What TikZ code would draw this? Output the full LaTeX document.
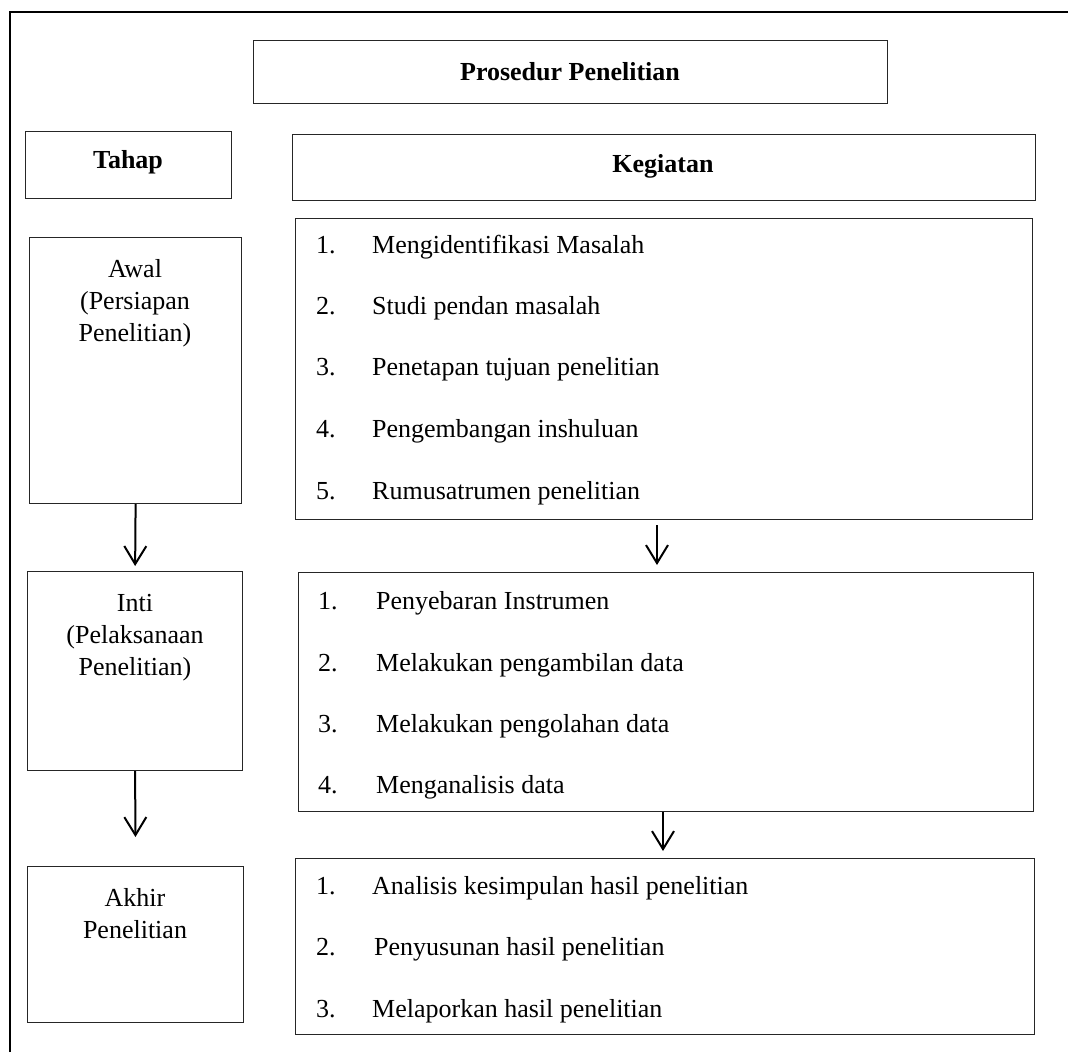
\documentclass[tikz,border=0pt]{standalone}
\usepackage{fontspec}
\setmainfont{Liberation Serif}
\usetikzlibrary{arrows.meta}
\begin{document}
\begin{tikzpicture}[x=1pt,y=-1pt,
  box/.style={draw=black!85, line width=1.2pt, inner sep=0pt, anchor=north west},
  txt/.style={inner sep=0pt, font=\fontsize{26}{30}\selectfont},
  hd/.style={inner sep=0pt, font=\fontsize{26}{30}\selectfont\bfseries},
  arr/.style={line width=2pt, -{Straight Barb[length=18pt,width=22pt]}}]
\useasboundingbox (0,0) rectangle (1068,1052);
\draw[line width=2pt] (10,1052) -- (10,12) -- (1068,12);

% boxes
\node[box, minimum width=634pt, minimum height=63pt] (title) at (253,40) {};
\node[box, minimum width=206pt, minimum height=67pt] (tahap) at (25,131) {};
\node[box, minimum width=743pt, minimum height=66pt] (keg) at (292,134) {};
\node[box, minimum width=212pt, minimum height=266pt] (awal) at (29,237) {};
\node[box, minimum width=737pt, minimum height=301pt] (list1) at (295,218) {};
\node[box, minimum width=215pt, minimum height=199pt] (inti) at (27,571) {};
\node[box, minimum width=735pt, minimum height=239pt] (list2) at (298,572) {};
\node[box, minimum width=216pt, minimum height=156pt] (akhir) at (27,866) {};
\node[box, minimum width=739pt, minimum height=176pt] (list3) at (295,858) {};

% headings
\node[hd, anchor=base] (ttitle) at (570,80) {Prosedur Penelitian};
\node[hd, anchor=base] (ttahap) at (128,168) {Tahap};
\node[hd, anchor=base] (tkeg) at (663,172) {Kegiatan};

% left column texts
\node[txt, anchor=base] (aw1) at (135,277) {Awal};
\node[txt, anchor=base] (aw2) at (135,309) {(Persiapan};
\node[txt, anchor=base] (aw3) at (135,341) {Penelitian)};
\node[txt, anchor=base] (in1) at (135,611) {Inti};
\node[txt, anchor=base] (in2) at (135,643) {(Pelaksanaan};
\node[txt, anchor=base] (in3) at (135,675) {Penelitian)};
\node[txt, anchor=base] (ak1) at (135,906) {Akhir};
\node[txt, anchor=base] (ak2) at (135,938) {Penelitian};

% list 1
\node[txt, anchor=base west] (n11) at (316,253) {1.};
\node[txt, anchor=base west] (t11) at (372,253) {Mengidentifikasi Masalah};
\node[txt, anchor=base west] (n12) at (316,314) {2.};
\node[txt, anchor=base west] (t12) at (372,314) {Studi pendan masalah};
\node[txt, anchor=base west] (n13) at (316,375) {3.};
\node[txt, anchor=base west] (t13) at (372,375) {Penetapan tujuan penelitian};
\node[txt, anchor=base west] (n14) at (316,437) {4.};
\node[txt, anchor=base west] (t14) at (372,437) {Pengembangan inshuluan};
\node[txt, anchor=base west] (n15) at (316,499) {5.};
\node[txt, anchor=base west] (t15) at (372,499) {Rumusatrumen penelitian};

% list 2
\node[txt, anchor=base west] (n21) at (318,609) {1.};
\node[txt, anchor=base west] (t21) at (376,609) {Penyebaran Instrumen};
\node[txt, anchor=base west] (n22) at (318,671) {2.};
\node[txt, anchor=base west] (t22) at (376,671) {Melakukan pengambilan data};
\node[txt, anchor=base west] (n23) at (318,732) {3.};
\node[txt, anchor=base west] (t23) at (376,732) {Melakukan pengolahan data};
\node[txt, anchor=base west] (n24) at (318,793) {4.};
\node[txt, anchor=base west] (t24) at (376,793) {Menganalisis data};

% list 3
\node[txt, anchor=base west] (n31) at (316,894) {1.};
\node[txt, anchor=base west] (t31) at (372,894) {Analisis kesimpulan hasil penelitian};
\node[txt, anchor=base west] (n32) at (316,955) {2.};
\node[txt, anchor=base west] (t32) at (374,955) {Penyusunan hasil penelitian};
\node[txt, anchor=base west] (n33) at (316,1017) {3.};
\node[txt, anchor=base west] (t33) at (372,1017) {Melaporkan hasil penelitian};

% arrows
\draw[arr, shorten >=5pt] (awal.south) -- (inti.north);
\draw[arr, shorten >=29pt] (inti.south) -- (akhir.north);
\coordinate (c1) at (657,0);
\coordinate (c2) at (663,0);
\draw[arr, shorten <=5pt, shorten >=7pt] (list1.south -| c1) -- (list2.north -| c1);
\draw[arr, shorten >=7pt] (list2.south -| c2) -- (list3.north -| c2);
\end{tikzpicture}
\end{document}
